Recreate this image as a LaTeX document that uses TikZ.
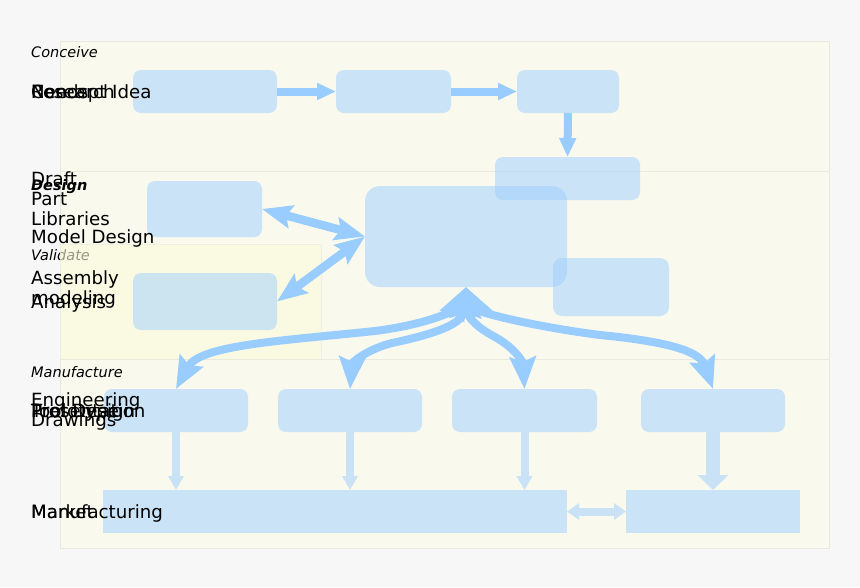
\documentclass[tikz,border=0pt]{standalone}
\usepackage{fontspec}
\setmainfont{DejaVu Sans}
\usetikzlibrary{arrows.meta}
\definecolor{bgc}{HTML}{F7F7F7}
\definecolor{panelc}{HTML}{F9F9EE}
\definecolor{panelline}{HTML}{E9E9E0}
\definecolor{valc}{RGB}{252,252,220}
\definecolor{boxc}{HTML}{99CCFF}
\definecolor{arrc}{HTML}{99CCFF}
\definecolor{lightarr}{HTML}{C9E2F5}
\begin{document}
\begin{tikzpicture}[x=1pt,y=-1pt,
  box/.style={fill=boxc, fill opacity=0.47, draw=none, rounded corners=8pt, inner sep=0pt, outer sep=0pt},
  sqbox/.style={box, rounded corners=0pt},
  lbl/.style={inner sep=0pt, font=\fontsize{18.2}{20}\selectfont, align=left, text=black},
  sec/.style={inner sep=0pt, font=\fontsize{14.5}{17}\selectfont\itshape, anchor=base west, text=black},
  panel/.style={fill=panelc, draw=panelline, line width=0.7pt},
  flow/.style={draw=arrc, line width=8pt, -{Triangle[length=19pt,width=16pt]}},
  dbl/.style={draw=arrc, line width=8.5pt, {Stealth[length=30pt,width=23pt,inset=5pt]}-{Stealth[length=30pt,width=23pt,inset=5pt]}},
  curv/.style={draw=arrc, line width=8pt, {Stealth[length=32pt,width=26pt,inset=5pt]}-{Stealth[length=32pt,width=26pt,inset=5pt]}},
  down/.style={draw=lightarr, line width=8pt, -{Triangle[length=14pt,width=15pt]}},
  wdown/.style={draw=lightarr, line width=14pt, -{Triangle[length=15pt,width=30pt]}},
  ldbl/.style={draw=lightarr, line width=8pt, {Triangle[length=12pt,width=16pt]}-{Triangle[length=12pt,width=16pt]}}
]
\useasboundingbox (0,0) rectangle (860,587);
\fill[bgc] (0,0) rectangle (860,587);

% panels
\path[panel] (60,41) rectangle (829,171);
\path[panel] (60,171) rectangle (829,359);
\path[panel] (60,359) rectangle (829,548);

\node[sec] (sV) at (31,260) {Validate};
\path[fill=valc, fill opacity=0.6, draw=panelline, draw opacity=0.6, line width=0.7pt] (60,244) rectangle (321,359);

\node[sec] (sC) at (31,57.5) {Conceive};
\node[sec, font=\fontsize{14.5}{17}\selectfont\bfseries\itshape] (sD) at (31,190) {Design};
\node[sec] (sM) at (31,377) {Manufacture};

% boxes
\node[box, minimum width=144pt, minimum height=43pt] (A) at (205,91.5) {};
\node[box, minimum width=115pt, minimum height=43pt] (B) at (393.5,91.5) {};
\node[box, minimum width=102pt, minimum height=43pt] (C) at (568,91.5) {};
\node[box, minimum width=145pt, minimum height=43pt] (D) at (567.5,178.5) {};
\node[box, minimum width=115pt, minimum height=56pt] (P) at (204.5,209) {};
\node[box, minimum width=202pt, minimum height=101pt, rounded corners=15pt] (M) at (466,236.5) {};
\node[box, minimum width=116pt, minimum height=58pt, rounded corners=9pt] (E) at (611,287) {};
\node[box, minimum width=144pt, minimum height=57pt] (V) at (205,301.5) {};
\node[box, minimum width=144pt, minimum height=43pt] (F1) at (176,410.5) {};
\node[box, minimum width=144pt, minimum height=43pt] (F2) at (350,410.5) {};
\node[box, minimum width=145pt, minimum height=43pt] (F3) at (524.5,410.5) {};
\node[box, minimum width=144pt, minimum height=43pt] (F4) at (713,410.5) {};
\node[sqbox, minimum width=464pt, minimum height=43pt] (G1) at (335,511.5) {};
\node[sqbox, minimum width=174pt, minimum height=43pt] (G2) at (713,511.5) {};

% connectors
\draw[flow] (A.east) -- (B.west);
\draw[flow] (B.east) -- (C.west);
\draw[flow] (C.south) -- (D.north);
\draw[dbl] (P.east) -- (M.west);
\draw[dbl] (V.east) -- (M.west);

\draw[curv] (M.south) .. controls (455,310) and (430,324) .. (375,331)
  .. controls (280,341) and (200,345) .. (F1.north);
\draw[curv] (M.south) .. controls (462,325) and (430,335) .. (392,343)
  .. controls (368,349) and (352,362) .. (F2.north);
\draw[curv] (M.south) .. controls (468,318) and (478,328) .. (495,337)
  .. controls (515,348) and (523,362) .. (F3.north);
\draw[curv] (M.south) .. controls (478,312) and (530,326) .. (600,335)
  .. controls (672,342) and (700,352) .. (F4.north);

\draw[down] (F1.south) -- (F1.south |- G1.north);
\draw[down] (F2.south) -- (F2.south |- G1.north);
\draw[down] (F3.south) -- (F3.south |- G1.north);
\draw[wdown] (F4.south) -- (G2.north);
\draw[ldbl] (G1.east) -- (G2.west);

% labels
\node[lbl, anchor=base west] (tA) at (31,98) {Needs};
\node[lbl, anchor=base west] (tB) at (31,98) {Research};
\node[lbl, anchor=base west] (tC) at (31,98) {Concept Idea};
\node[lbl, anchor=base west] (tD) at (31,185) {Draft};
\node[lbl, anchor=north west] (tP) at (31,191.7) {Part\\Libraries};
\node[lbl, anchor=base west] (tM) at (31,243) {Model Design};
\node[lbl, anchor=north west] (tE) at (31,270.7) {Assembly\\modeling};
\node[lbl, anchor=base west] (tV) at (31,308) {Analysis};
\node[lbl, anchor=north west] (tF1) at (31,392.7) {Engineering\\Drawings};
\node[lbl, anchor=base west] (tF2) at (31,417) {Tool Design};
\node[lbl, anchor=base west] (tF3) at (31,417) {Prototype};
\node[lbl, anchor=base west] (tF4) at (31,417) {Presentation};
\node[lbl, anchor=base west] (tG1) at (31,518) {Manufacturing};
\node[lbl, anchor=base west] (tG2) at (31,518) {Market};
\end{tikzpicture}
\end{document}
